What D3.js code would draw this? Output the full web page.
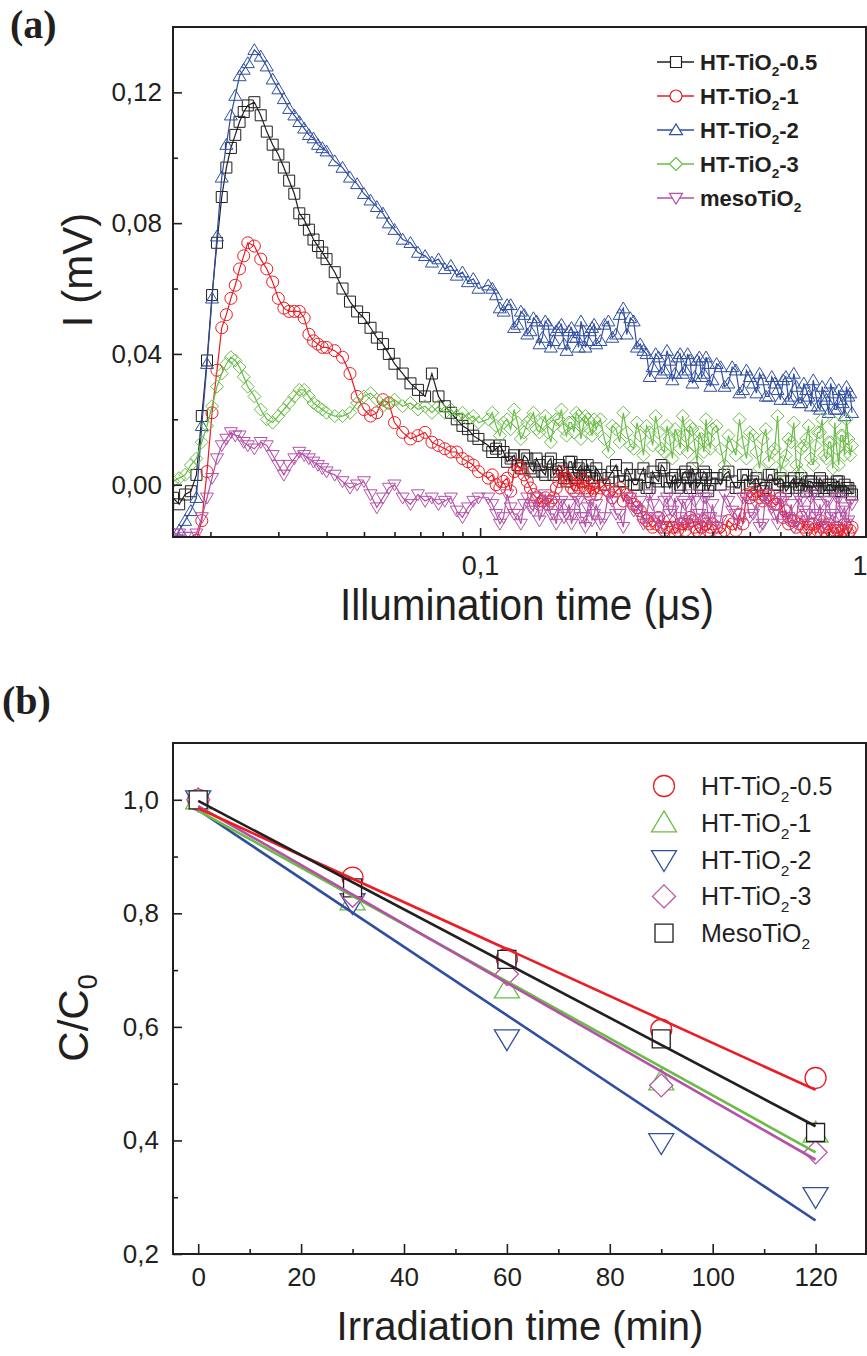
<!DOCTYPE html>
<html>
<head>
<meta charset="utf-8">
<script src="https://cdn.jsdelivr.net/npm/d3@7"></script>
<style>
  body { margin: 0; background: #fff; }
  svg { display: block; }
</style>
</head>
<body>
<script>
'use strict';

// ---------- panel (a): photocurrent transients ----------
// illumination time (µs), shared by all five traces
const timeUs = [0.0160,0.0166,0.0172,0.0178,0.0184,0.0190,0.0196,0.0202,0.0208,0.0214,0.0220,0.0226,0.0232,0.0238,0.0244,0.0250,
  0.026,0.027,0.028,0.029,0.030,0.031,0.032,0.033,0.034,0.035,0.036,0.037,0.038,0.039,0.040,
  0.042,0.044,0.046,0.048,0.050,0.052,0.054,0.056,0.058,0.060,
  0.063,0.066,0.069,0.072,0.075,0.078,0.081,0.084,0.087,0.090,0.093,0.096,0.099,
  0.105,0.110,0.115,0.120,0.125,0.130,0.135,0.140,0.145,0.150,0.155,0.160,0.165,0.170,0.175,0.180,0.185,0.190,0.195,0.200,
  0.21,0.22,0.23,0.24,0.25,0.26,0.27,0.28,0.29,0.30,0.31,0.32,0.33,0.34,0.35,0.36,0.37,0.38,0.39,0.40,
  0.42,0.44,0.46,0.48,0.50,0.52,0.54,0.56,0.58,0.60,0.62,0.64,0.66,0.68,0.70,0.72,0.74,0.76,0.78,0.80,0.82,0.84,0.86,0.88,0.90,0.92];

const iHT05 = [-0.004,-0.006,-0.003,-0.002,0.003,0.021,0.038,0.058,0.074,0.088,0.097,0.103,0.107,0.111,0.114,0.116,
  0.117,0.113,0.108,0.104,0.101,0.097,0.093,0.089,0.083,0.081,0.078,0.075,0.073,0.071,0.069,
  0.065,0.060,0.056,0.053,0.051,0.048,0.045,0.043,0.040,0.037,
  0.034,0.031,0.029,0.027,0.034,0.027,0.024,0.022,0.020,0.018,0.017,0.015,0.014,
  0.012,0.011,0.010,0.008,0.006,0.009,0.005,0.008,0.004,0.007,0.003,0.006,0.002,0.007,0.003,0.005,0.001,0.006,0.002,0.005,
  0.000,0.004,0.001,0.005,0.000,0.003,-0.001,0.004,0.001,0.005,-0.001,0.003,0.000,0.004,-0.001,0.003,0.000,0.004,-0.002,0.002,
  0.000,0.004,-0.001,0.003,0.000,0.002,-0.002,0.003,0.000,0.002,-0.002,0.001,-0.001,0.002,-0.002,0.001,-0.001,0.002,-0.002,0.000,-0.001,0.001,-0.002,0.000,-0.001,-0.003];

const iHT1 = [-0.030,-0.030,-0.025,-0.022,-0.017,-0.011,0.004,0.022,0.035,0.048,0.052,0.057,0.061,0.066,0.070,0.074,
  0.073,0.069,0.066,0.062,0.057,0.054,0.053,0.053,0.053,0.051,0.046,0.044,0.043,0.042,0.042,
  0.041,0.039,0.034,0.027,0.023,0.021,0.022,0.026,0.025,0.019,
  0.016,0.014,0.015,0.016,0.013,0.012,0.011,0.010,0.010,0.008,0.007,0.006,0.004,
  0.002,0.000,0.001,-0.002,0.006,0.003,-0.001,-0.004,-0.005,-0.006,-0.004,0.001,0.003,0.001,-0.002,-0.001,0.001,-0.002,0.000,-0.003,
  0.000,-0.004,-0.001,-0.003,-0.006,-0.008,-0.011,-0.013,-0.010,-0.014,-0.011,-0.015,-0.012,-0.014,-0.010,-0.013,-0.015,-0.011,-0.014,-0.012,
  -0.015,-0.011,-0.014,-0.012,-0.004,-0.002,-0.005,-0.003,-0.006,-0.004,-0.008,-0.011,-0.013,-0.010,-0.014,-0.012,-0.015,-0.011,-0.014,-0.012,-0.015,-0.013,-0.016,-0.012,-0.015,-0.013];

const iHT2 = [-0.020,-0.014,-0.011,-0.008,-0.004,0.018,0.037,0.057,0.076,0.094,0.104,0.113,0.119,0.125,0.127,0.129,
  0.133,0.131,0.128,0.124,0.121,0.118,0.115,0.113,0.111,0.109,0.107,0.106,0.104,0.103,0.102,
  0.099,0.097,0.094,0.092,0.089,0.087,0.085,0.083,0.080,0.078,
  0.075,0.074,0.071,0.070,0.068,0.069,0.066,0.067,0.064,0.065,0.062,0.063,0.060,
  0.061,0.058,0.053,0.055,0.049,0.052,0.047,0.050,0.045,0.049,0.044,0.048,0.043,0.047,0.045,0.042,0.047,0.044,0.048,0.043,
  0.049,0.045,0.052,0.046,0.050,0.043,0.040,0.036,0.039,0.035,0.038,0.034,0.040,0.035,0.038,0.033,0.039,0.034,0.037,0.032,
  0.036,0.031,0.035,0.029,0.033,0.028,0.032,0.027,0.031,0.026,0.033,0.027,0.030,0.025,0.029,0.024,0.028,0.023,0.027,0.022,0.028,0.023,0.026,0.021,0.027,0.022];

const iHT3 = [0.001,0.002,0.003,0.006,0.008,0.013,0.018,0.024,0.030,0.034,0.037,0.039,0.038,0.036,0.033,0.030,
  0.027,0.023,0.020,0.019,0.021,0.023,0.025,0.027,0.029,0.029,0.027,0.025,0.024,0.023,0.022,
  0.021,0.021,0.022,0.025,0.027,0.028,0.026,0.024,0.025,0.026,
  0.024,0.025,0.023,0.024,0.022,0.024,0.022,0.023,0.021,0.022,0.020,0.021,0.019,
  0.020,0.018,0.019,0.017,0.019,0.016,0.020,0.017,0.019,0.016,0.018,0.020,0.017,0.019,0.016,0.021,0.018,0.020,0.015,0.017,
  0.014,0.018,0.013,0.016,0.011,0.015,0.018,0.012,0.016,0.010,0.014,0.017,0.011,0.015,0.018,0.012,0.016,0.010,0.014,0.017,
  0.011,0.015,0.009,0.013,0.016,0.010,0.014,0.007,0.011,0.004,0.009,0.013,0.006,0.011,0.014,0.008,0.012,0.016,0.009,0.013,0.005,0.011,0.015,0.009,0.014,0.012];

const iMeso = [-0.015,-0.015,-0.016,-0.016,-0.015,-0.010,-0.004,0.002,0.008,0.012,0.014,0.016,0.015,0.015,0.013,0.012,
  0.011,0.013,0.012,0.009,0.006,0.003,0.006,0.008,0.010,0.009,0.008,0.007,0.006,0.005,0.004,
  0.003,0.001,-0.001,0.000,0.001,-0.003,-0.007,-0.004,-0.001,0.000,
  -0.004,-0.006,-0.003,-0.005,-0.004,-0.006,-0.005,-0.004,-0.008,-0.010,-0.007,-0.005,-0.004,
  -0.004,-0.009,-0.010,-0.007,-0.009,-0.006,-0.007,-0.004,-0.008,-0.005,-0.009,-0.006,-0.010,-0.006,-0.009,-0.005,-0.010,-0.007,-0.011,-0.006,
  -0.010,-0.005,-0.009,-0.004,-0.008,-0.005,-0.010,-0.006,-0.011,-0.005,-0.009,-0.004,-0.010,-0.006,-0.012,-0.005,-0.009,-0.004,-0.010,-0.006,
  -0.011,-0.005,-0.009,-0.004,-0.010,-0.006,-0.012,-0.005,-0.009,-0.004,-0.010,-0.006,-0.011,-0.005,-0.009,-0.004,-0.010,-0.006,-0.012,-0.005,-0.009,-0.004,-0.010,-0.007,-0.011,-0.006];

// extra samples in the dense tail (t > 0.1 µs)
const timeLateUs = [0.1075,0.1125,0.1175,0.1225,0.1275,0.1325,0.1375,0.1425,0.1475,0.1525,0.1575,0.1625,0.1675,0.1725,0.1775,0.1825,0.1875,0.1925,0.1975,
  0.205,0.215,0.225,0.235,0.245,0.255,0.265,0.275,0.285,0.295,0.305,0.315,0.325,0.335,0.345,0.355,0.365,0.375,0.385,0.395,
  0.41,0.43,0.45,0.47,0.49,0.51,0.53,0.55,0.57,0.59,0.61,0.63,0.65,0.67,0.69,0.71,0.73,0.75,0.77,0.79,0.81,0.83,0.85,0.87,0.89,0.91];

const lateHT05 = [0.010,0.012,0.007,0.009,0.005,0.008,0.004,0.006,0.003,0.008,0.004,0.005,0.001,0.007,0.002,0.006,0.003,0.004,0.001,
  0.003,0.002,0.006,0.001,0.003,0.000,0.005,-0.001,0.002,0.006,0.001,0.002,-0.001,0.003,0.002,0.005,-0.001,0.002,0.003,0.000,
  0.002,0.003,0.001,-0.001,0.003,0.001,0.000,-0.001,0.003,0.000,0.001,-0.001,0.002,0.000,-0.002,0.001,0.000,-0.002,0.001,-0.001,0.000,-0.002,0.001,-0.002,-0.001,-0.002];

const lateHT1 = [0.003,-0.001,0.002,0.004,0.005,0.001,-0.003,-0.006,-0.004,-0.005,-0.001,0.004,0.002,-0.001,0.000,0.002,-0.001,-0.003,-0.001,
  -0.001,-0.002,-0.002,-0.005,-0.004,-0.007,-0.010,-0.012,-0.012,-0.013,-0.013,-0.013,-0.014,-0.012,-0.012,-0.011,-0.014,-0.013,-0.012,-0.013,
  -0.013,-0.014,-0.012,-0.009,-0.003,-0.003,-0.004,-0.004,-0.005,-0.006,-0.010,-0.012,-0.011,-0.012,-0.013,-0.013,-0.012,-0.014,-0.013,-0.013,-0.014,-0.014,-0.014,-0.014,-0.013,-0.014];

const lateHT2 = [0.060,0.054,0.055,0.048,0.053,0.046,0.051,0.043,0.050,0.042,0.047,0.049,0.041,0.048,0.045,0.050,0.042,0.047,0.049,
  0.044,0.050,0.046,0.054,0.051,0.042,0.041,0.033,0.040,0.034,0.041,0.032,0.039,0.034,0.040,0.031,0.038,0.033,0.039,0.030,
  0.037,0.030,0.036,0.028,0.035,0.031,0.034,0.027,0.033,0.029,0.032,0.026,0.034,0.025,0.031,0.027,0.032,0.024,0.030,0.026,0.031,0.023,0.029,0.025,0.030,0.028];

const lateHT3 = [0.022,0.015,0.020,0.023,0.014,0.019,0.022,0.016,0.021,0.013,0.020,0.023,0.015,0.019,0.022,0.014,0.021,0.017,0.020,
  0.020,0.010,0.017,0.022,0.012,0.019,0.009,0.016,0.021,0.011,0.018,0.008,0.015,0.021,0.010,0.017,0.007,0.014,0.020,0.011,
  0.018,0.006,0.012,0.020,0.008,0.015,0.005,0.017,0.010,0.021,0.007,0.014,0.019,0.004,0.012,0.018,0.006,0.016,0.020,0.008,0.013,0.019,0.006,0.015,0.020,0.009];

const lateMeso = [-0.006,-0.012,-0.003,-0.009,-0.012,-0.004,-0.008,-0.011,-0.003,-0.009,-0.012,-0.005,-0.009,-0.012,-0.004,-0.010,-0.013,-0.005,-0.009,
  -0.012,-0.003,-0.009,-0.013,-0.004,-0.008,-0.012,-0.003,-0.010,-0.013,-0.004,-0.008,-0.013,-0.005,-0.011,-0.003,-0.009,-0.013,-0.004,-0.010,
  -0.013,-0.003,-0.008,-0.012,-0.004,-0.009,-0.013,-0.003,-0.007,-0.012,-0.005,-0.010,-0.013,-0.004,-0.008,-0.012,-0.003,-0.009,-0.013,-0.005,-0.010,-0.013,-0.004,-0.008,-0.012,-0.005];

const namesA = ['HT-TiO2-0.5', 'HT-TiO2-1', 'HT-TiO2-2', 'HT-TiO2-3', 'mesoTiO2'];
const yTicksA = [0, 0.04, 0.08, 0.12];
const yMinorA = [0.02, 0.06, 0.10];
const xTicksA = [0.1, 1];
const xMinorA = [0.02,0.03,0.04,0.05,0.06,0.07,0.08,0.09,0.2,0.3,0.4,0.5,0.6,0.7,0.8,0.9];

// ---------- panel (b): degradation kinetics ----------
const irrMin = [0, 30, 60, 90, 120];
const cHT05 = [1.0, 0.863, 0.720, 0.595, 0.510];
const cHT1  = [1.0, 0.822, 0.667, 0.505, 0.413];
const cHT2  = [1.0, 0.819, 0.579, 0.396, 0.301];
const cHT3  = [1.0, 0.831, 0.693, 0.497, 0.379];
const cMeso = [1.0, 0.845, 0.719, 0.579, 0.414];
// linear fits: value at t = 0 and at t = 120 min
const fitStart = [0.985, 0.981, 0.982, 0.989, 0.998];
const fitEnd   = [0.489, 0.379, 0.259, 0.366, 0.425];
const namesB = ['HT-TiO2-0.5', 'HT-TiO2-1', 'HT-TiO2-2', 'HT-TiO2-3', 'MesoTiO2'];
const xTicksB = [0, 20, 40, 60, 80, 100, 120];
const xMinorB = [10, 30, 50, 70, 90, 110];
const yTicksB = [0.2, 0.4, 0.6, 0.8, 1.0];
const yMinorB = [0.3, 0.5, 0.7, 0.9];

const BLACK = '#231f20', RED = '#ec1c24', BLUE = '#2f4e9f', GREEN = '#69bd45', MAG = '#b451a6';
const SANS = '"Liberation Sans", Arial, Helvetica, sans-serif';

// marker outline of a given width, centred on 0,0
function marker(kind, s) {
  const h = s / 2;
  if (kind === 'square') return `M${-h},${-h}H${h}V${h}H${-h}Z`;
  if (kind === 'circle') return `M${h},0A${h},${h} 0 1,1 ${-h},0A${h},${h} 0 1,1 ${h},0Z`;
  if (kind === 'up') return `M0,${-h * 0.95}L${h},${h * 0.72}L${-h},${h * 0.72}Z`;
  if (kind === 'down') return `M0,${h * 0.95}L${h},${-h * 0.72}L${-h},${-h * 0.72}Z`;
  return `M0,${-h}L${h},0L0,${h}L${-h},0Z`; // diamond
}

const comma = f => d => d3.format(f)(d).replace('.', ',');

// writes "HT-TiO2-1" style labels with a subscript 2
function chemText(sel, label, size) {
  const i = label.indexOf('O2');
  sel.append('tspan').text(label.slice(0, i + 1));
  sel.append('tspan').attr('dy', size * 0.28).style('font-size', (size * 0.62) + 'px').text('2');
  sel.append('tspan').attr('dy', -size * 0.28).text(label.slice(i + 2));
}

const svg = d3.select('body').append('svg')
  .attr('width', 867)
  .attr('height', 1356);

// ================= panel (a) =================
const ax = { l: 173, r: 866, t: 27, b: 537 };
const xA = d3.scaleLog().domain([0.016, 1]).range([ax.l, ax.r]);
const yA = d3.scaleLinear().domain([-0.016, 0.14]).range([ax.b, ax.t]);

svg.append('clipPath').attr('id', 'clipA')
  .append('rect').attr('x', ax.l).attr('y', ax.t)
  .attr('width', ax.r - ax.l).attr('height', ax.b - ax.t);

const seriesA = [
  { name: namesA[0], vals: iHT05, late: lateHT05, color: BLACK, kind: 'square', size: 11 },
  { name: namesA[1], vals: iHT1, late: lateHT1, color: RED, kind: 'circle', size: 12 },
  { name: namesA[2], vals: iHT2, late: lateHT2, color: BLUE, kind: 'up', size: 13 },
  { name: namesA[3], vals: iHT3, late: lateHT3, color: GREEN, kind: 'diamond', size: 13 },
  { name: namesA[4], vals: iMeso, late: lateMeso, color: MAG, kind: 'down', size: 13 }
];

const plotA = svg.append('g').attr('clip-path', 'url(#clipA)');
const lineA = d3.line().x(d => xA(d[0])).y(d => yA(d[1]));

seriesA.forEach(s => {
  // main samples plus the tail samples, in time order
  const pts = timeUs.map((t, i) => [t, s.vals[i]])
    .concat(timeLateUs.map((t, i) => [t, s.late[i]]))
    .sort((a, b) => a[0] - b[0]);
  const g = plotA.append('g');
  g.append('path')
    .datum(pts)
    .attr('d', lineA)
    .attr('fill', 'none')
    .attr('stroke', s.color)
    .attr('stroke-width', 1.2);
  g.selectAll('path.pt')
    .data(pts)
    .enter()
    .append('path')
      .attr('class', 'pt')
      .attr('transform', d => `translate(${xA(d[0])},${yA(d[1])})`)
      .attr('d', marker(s.kind, s.size))
      .attr('fill', 'none')
      .attr('stroke', s.color)
      .attr('stroke-width', 1);
});

// axes, ticks pointing inwards
function styleAxis(g) {
  g.select('.domain').remove();
  g.selectAll('line').attr('stroke', BLACK).attr('stroke-width', 1.6);
  g.selectAll('text').attr('fill', BLACK).style('font-family', SANS);
}

svg.append('g')
  .attr('transform', `translate(${ax.l},0)`)
  .call(d3.axisLeft(yA).tickValues(yTicksA).tickSize(-9).tickPadding(11).tickFormat(comma('.2f')))
  .call(styleAxis)
  .selectAll('text').style('font-size', '26px');
svg.append('g')
  .attr('transform', `translate(${ax.l},0)`)
  .call(d3.axisLeft(yA).tickValues(yMinorA).tickSize(-5).tickFormat(''))
  .call(styleAxis);

const xAxisA = svg.append('g')
  .attr('transform', `translate(0,${ax.b})`)
  .call(d3.axisBottom(xA).tickValues(xTicksA).tickSize(-9).tickPadding(19).tickFormat(d => d === 1 ? '1' : '0,1'))
  .call(styleAxis);
xAxisA.selectAll('text').style('font-size', '27px')
  .style('font-family', '"Liberation Sans Narrow", "Liberation Sans", Arial, sans-serif');
// the "1" sits on the right edge, keep it inside the page
xAxisA.selectAll('text').filter(d => d === 1).attr('text-anchor', 'end').attr('x', 1);
svg.append('g')
  .attr('transform', `translate(0,${ax.b})`)
  .call(d3.axisBottom(xA).tickValues(xMinorA).tickSize(-5).tickFormat(''))
  .call(styleAxis);

svg.append('rect')
  .attr('x', ax.l).attr('y', ax.t)
  .attr('width', ax.r - ax.l).attr('height', ax.b - ax.t)
  .attr('fill', 'none').attr('stroke', BLACK).attr('stroke-width', 2);

// legend (a)
const legA = svg.append('g').attr('transform', 'translate(657,62)');
seriesA.forEach((s, i) => {
  const row = legA.append('g').attr('transform', `translate(0,${i * 34})`);
  row.append('line').attr('x1', 0).attr('x2', 37).attr('y1', 0).attr('y2', 0)
    .attr('stroke', s.color).attr('stroke-width', 1.6);
  row.append('path').attr('transform', 'translate(19,0)')
    .attr('d', marker(s.kind, s.size))
    .attr('fill', '#fff').attr('stroke', s.color).attr('stroke-width', 1.2);
  const t = row.append('text').attr('x', 43).attr('y', 8)
    .style('font-family', SANS).style('font-size', '22px').style('font-weight', 'bold')
    .attr('fill', BLACK);
  chemText(t, s.name, 22);
});

// labels (a)
svg.append('text').attr('x', 10).attr('y', 38)
  .style('font-family', '"Liberation Serif", "Times New Roman", serif')
  .style('font-size', '40px').style('font-weight', 'bold').attr('fill', BLACK)
  .text('(a)');
svg.append('text')
  .attr('transform', 'translate(92,270)rotate(-90)')
  .attr('text-anchor', 'middle')
  .style('font-family', SANS).style('font-size', '42px').attr('fill', BLACK)
  .text('I (mV)');
svg.append('text')
  .attr('x', 527).attr('y', 620)
  .attr('text-anchor', 'middle')
  .attr('textLength', 374).attr('lengthAdjust', 'spacingAndGlyphs')
  .style('font-family', '"Liberation Sans Narrow", "Liberation Sans", Arial, sans-serif')
  .style('font-size', '44px').attr('fill', BLACK)
  .text('Illumination time (\u03bcs)');

// ================= panel (b) =================
const bx = { l: 173, r: 866, t: 743, b: 1254 };
const xB = d3.scaleLinear().domain([-4.9, 129.8]).range([bx.l, bx.r]);
const yB = d3.scaleLinear().domain([0.2, 1.1]).range([bx.b, bx.t]);

const seriesB = [
  { name: namesB[0], vals: cHT05, color: RED, kind: 'circle', size: 21 },
  { name: namesB[1], vals: cHT1, color: GREEN, kind: 'up', size: 25 },
  { name: namesB[2], vals: cHT2, color: BLUE, kind: 'down', size: 25 },
  { name: namesB[3], vals: cHT3, color: MAG, kind: 'diamond', size: 23 },
  { name: namesB[4], vals: cMeso, color: BLACK, kind: 'square', size: 18 }
];

// markers, white filled
seriesB.forEach(s => {
  svg.append('g').selectAll('path')
    .data(s.vals)
    .enter()
    .append('path')
      .attr('transform', (d, i) => `translate(${xB(irrMin[i])},${yB(d)})`)
      .attr('d', marker(s.kind, s.size))
      .attr('fill', '#fff')
      .attr('stroke', s.color)
      .attr('stroke-width', 1.3);
});

// fitted lines drawn over the markers
const fitOrder = [2, 1, 3, 0, 4];
fitOrder.forEach(k => {
  svg.append('path')
    .datum([[0, fitStart[k]], [120, fitEnd[k]]])
    .attr('d', d3.line().x(d => xB(d[0])).y(d => yB(d[1])))
    .attr('fill', 'none')
    .attr('stroke', seriesB[k].color)
    .attr('stroke-width', 2.6);
});

svg.append('g')
  .attr('transform', `translate(${bx.l},0)`)
  .call(d3.axisLeft(yB).tickValues(yTicksB).tickSize(-9).tickPadding(14).tickFormat(comma('.1f')))
  .call(styleAxis)
  .selectAll('text').style('font-size', '26px');
svg.append('g')
  .attr('transform', `translate(${bx.l},0)`)
  .call(d3.axisLeft(yB).tickValues(yMinorB).tickSize(-5).tickFormat(''))
  .call(styleAxis);
svg.append('g')
  .attr('transform', `translate(0,${bx.b})`)
  .call(d3.axisBottom(xB).tickValues(xTicksB).tickSize(-10).tickPadding(14).tickFormat(d3.format('d')))
  .call(styleAxis)
  .selectAll('text').style('font-size', '26px');
svg.append('g')
  .attr('transform', `translate(0,${bx.b})`)
  .call(d3.axisBottom(xB).tickValues(xMinorB).tickSize(-5).tickFormat(''))
  .call(styleAxis);

svg.append('rect')
  .attr('x', bx.l).attr('y', bx.t)
  .attr('width', bx.r - bx.l).attr('height', bx.b - bx.t)
  .attr('fill', 'none').attr('stroke', BLACK).attr('stroke-width', 2);

// legend (b)
const legB = svg.append('g').attr('transform', 'translate(664,786)');
seriesB.forEach((s, i) => {
  const row = legB.append('g').attr('transform', `translate(0,${i * 36.8})`);
  row.append('path')
    .attr('d', marker(s.kind, s.size))
    .attr('fill', 'none').attr('stroke', s.color).attr('stroke-width', 1.3);
  const t = row.append('text').attr('x', 37).attr('y', 9)
    .style('font-family', SANS).style('font-size', '25px').attr('fill', BLACK);
  chemText(t, s.name, 25);
});

// labels (b)
svg.append('text').attr('x', 2).attr('y', 714)
  .style('font-family', '"Liberation Serif", "Times New Roman", serif')
  .style('font-size', '40px').style('font-weight', 'bold').attr('fill', BLACK)
  .text('(b)');
const cLabel = svg.append('text')
  .attr('transform', 'translate(88,1018)rotate(-90)')
  .attr('text-anchor', 'middle')
  .style('font-family', SANS).style('font-size', '42px').attr('fill', BLACK);
cLabel.append('tspan').text('C/C');
cLabel.append('tspan').attr('dy', 9).style('font-size', '27px').text('0');
svg.append('text')
  .attr('x', 520).attr('y', 1340)
  .attr('text-anchor', 'middle')
  .style('font-family', SANS).style('font-size', '40px').attr('fill', BLACK)
  .text('Irradiation time (min)');
</script>
</body>
</html>
